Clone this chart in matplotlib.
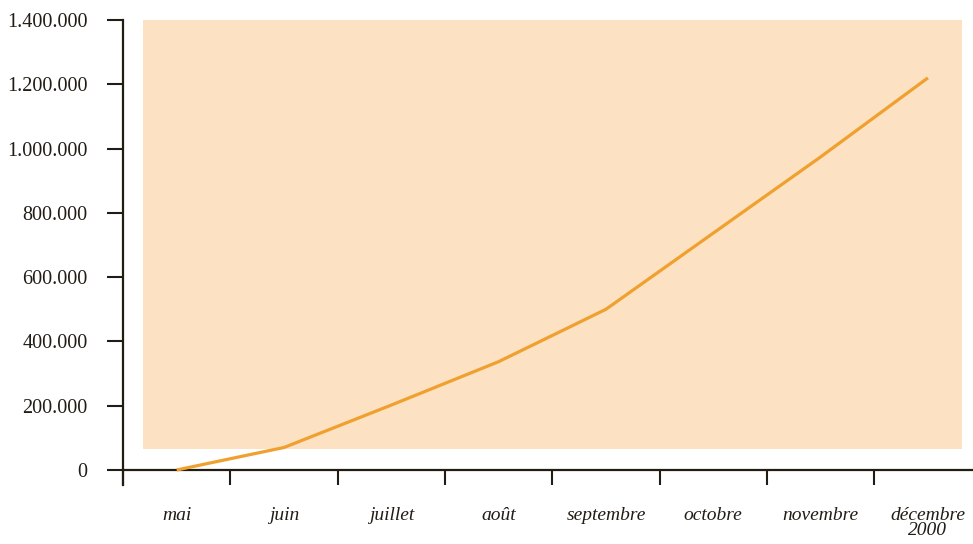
import matplotlib
matplotlib.use("Agg")
import matplotlib.pyplot as plt
from matplotlib.patches import Rectangle
from matplotlib.ticker import FuncFormatter, FixedLocator

months = ["mai", "juin", "juillet", "août", "septembre", "octobre", "novembre", "décembre\n2000"]
values = [0, 70000, 202000, 337000, 500000, 737000, 974000, 1220000]
yticks = [0, 200000, 400000, 600000, 800000, 1000000, 1200000, 1400000]

line_color = "#F0A02E"
panel_color = "#FCE2C3"
ink = "#231c14"

plt.rcParams["font.family"] = ["Liberation Serif", "DejaVu Serif"]

fig = plt.figure(figsize=(9.73, 5.44), dpi=100)
ax = fig.add_axes([123 / 973, 59 / 544, 1 - 123 / 973, (485 - 20) / 544])

ax.set_xlim(-0.5, 7.42)
ax.set_ylim(-46700, 1400000)

# shaded background panel
ax.add_patch(Rectangle((-0.317, 64000), 7.633, 1400000 - 64000,
                       facecolor=panel_color, edgecolor="none", zorder=0))

x = list(range(len(months)))
ax.plot(x, values, color=line_color, lw=2.3, solid_capstyle="butt", zorder=3)

for s in ("top", "right"):
    ax.spines[s].set_visible(False)
ax.spines["bottom"].set_position(("data", 0))
for s in ("left", "bottom"):
    ax.spines[s].set_color(ink)
    ax.spines[s].set_linewidth(1.6)

ax.yaxis.set_major_locator(FixedLocator(yticks))
ax.yaxis.set_major_formatter(FuncFormatter(lambda v, p: f"{int(v):,}".replace(",", ".")))
ax.tick_params(axis="y", length=11.5, width=1.5, color=ink, pad=14,
               labelsize=14.5, labelcolor=ink)

# month boundaries as tick marks, month names centred between them
ax.xaxis.set_minor_locator(FixedLocator([i - 0.5 for i in range(len(months))]))
ax.set_xticks(x)
ax.set_xticklabels(months, fontstyle="italic", fontsize=14, color=ink,
                   linespacing=0.8)
ax.tick_params(axis="x", which="major", length=0, pad=27)
ax.tick_params(axis="x", which="minor", length=11, width=1.5, color=ink,
               direction="out")

fig.savefig("out.png", dpi=100)
